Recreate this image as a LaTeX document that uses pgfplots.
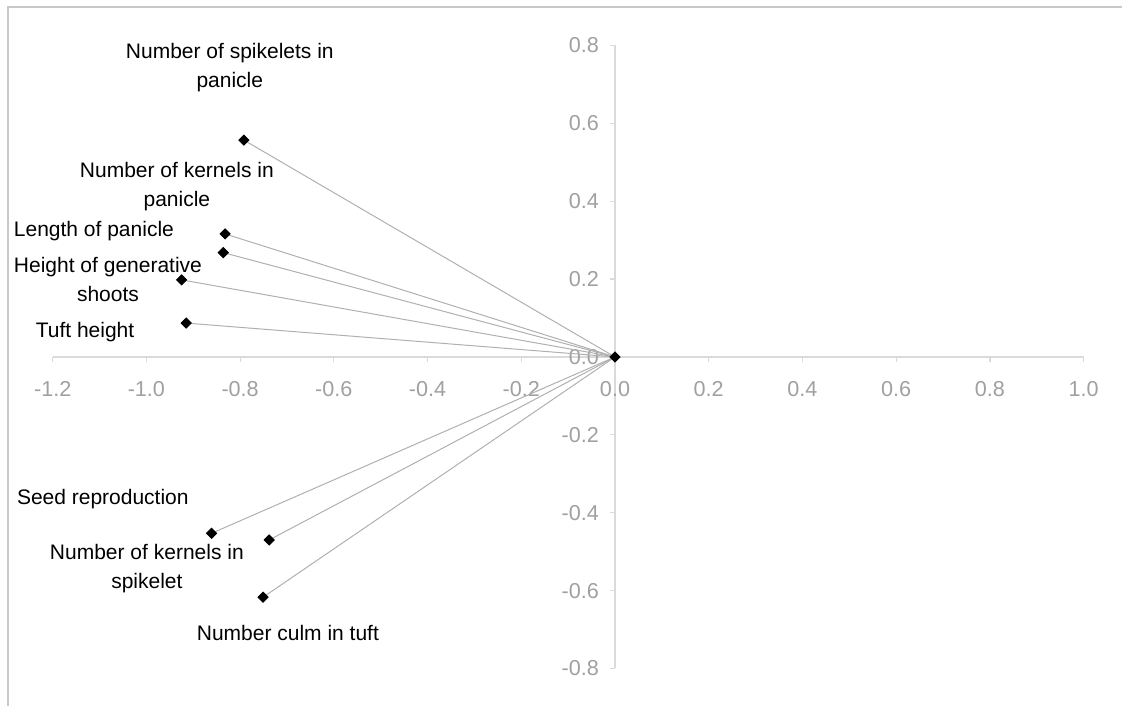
\documentclass[border=0pt]{standalone}
\usepackage{pgfplots}
\pgfplotsset{compat=1.18}
\usepackage{fontspec}
\setmainfont{Liberation Sans}
\definecolor{axgray}{HTML}{DADADA}
\definecolor{tkgray}{HTML}{A0A0A0}
\definecolor{lngray}{HTML}{B0B0B0}
\definecolor{frgray}{HTML}{C8C8C8}
\begin{document}
\begin{tikzpicture}
\begin{axis}[
  scale only axis,
  width=515.5pt, height=311.5pt,
  xmin=-1.2, xmax=1.0, ymin=-0.8, ymax=0.8,
  axis lines=middle,
  axis line style={axgray, line width=0.6pt, -},
  xtick={-1.2,-1.0,...,1.01},
  ytick={-0.8,-0.6,...,0.81},
  tick align=outside,
  major tick length=2.5pt,
  tick style={axgray, line width=0.6pt},
  hide obscured x ticks=false,
  hide obscured y ticks=false,
  xticklabel style={font=\fontsize{10.8}{12}\selectfont, text=tkgray, yshift=-6pt},
  yticklabel style={font=\fontsize{10.8}{12}\selectfont, text=tkgray, xshift=-2pt},
  /pgf/number format/assume math mode=true,
  /pgf/number format/.cd, fixed, fixed zerofill, precision=1,
  /tikz/.cd,
  clip=false,
]
% lines from origin to each variable
\addplot[lngray, line width=0.5pt] coordinates {(0,0) (-0.792,0.557)};
\addplot[lngray, line width=0.5pt] coordinates {(0,0) (-0.832,0.316)};
\addplot[lngray, line width=0.5pt] coordinates {(0,0) (-0.836,0.268)};
\addplot[lngray, line width=0.5pt] coordinates {(0,0) (-0.925,0.198)};
\addplot[lngray, line width=0.5pt] coordinates {(0,0) (-0.915,0.087)};
\addplot[lngray, line width=0.5pt] coordinates {(0,0) (-0.861,-0.453)};
\addplot[lngray, line width=0.5pt] coordinates {(0,0) (-0.738,-0.470)};
\addplot[lngray, line width=0.5pt] coordinates {(0,0) (-0.751,-0.617)};
% markers
\addplot[only marks, mark=square*, mark size=1.8pt, mark options={rotate=45, black, fill=black}] coordinates {
  (0,0) (-0.792,0.557) (-0.832,0.316) (-0.836,0.268) (-0.925,0.198)
  (-0.915,0.087) (-0.861,-0.453) (-0.738,-0.470) (-0.751,-0.617)
};
% labels
\begin{scope}[every node/.style={font=\fontsize{10.5}{14.5}\selectfont, align=center, inner sep=0pt}]
\node at (axis cs:-0.822,0.742) {Number of spikelets in\\panicle};
\node at (axis cs:-0.935,0.437) {Number of kernels in\\panicle};
\node at (axis cs:-1.112,0.324) {Length of panicle};
\node at (axis cs:-1.082,0.200) {Height of generative\\shoots};
\node at (axis cs:-1.131,0.064) {Tuft height};
\node at (axis cs:-1.093,-0.365) {Seed reproduction};
\node at (axis cs:-0.999,-0.544) {Number of kernels in\\spikelet};
\node at (axis cs:-0.698,-0.709) {Number culm in tuft};
\end{scope}
% frame (top and left visible)
\draw[frgray, line width=0.7pt] (axis cs:-1.2953,-0.8963) -- (axis cs:-1.2953,0.8988) -- (axis cs:1.0819,0.8988);
\coordinate (bbSW) at (axis cs:-1.3124,-0.8963);
\coordinate (bbNE) at (axis cs:1.0819,0.9168);
\end{axis}
\pgfresetboundingbox
\path (bbSW) rectangle (bbNE);
\end{tikzpicture}
\end{document}
